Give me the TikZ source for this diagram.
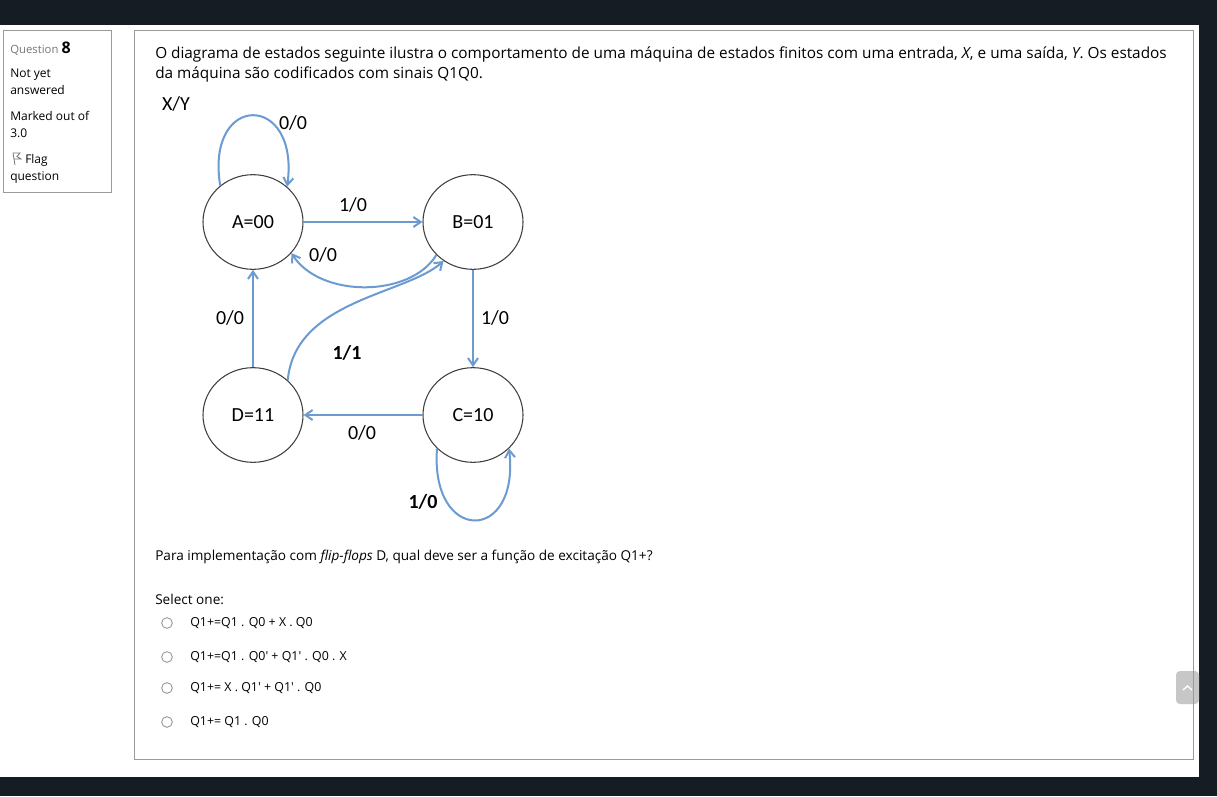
\documentclass[tikz,border=0pt]{standalone}
\usepackage{fontspec}
\setmainfont{Open Sans}
\newfontfamily\figfont{Carlito}
\usepackage{tikz}
\usetikzlibrary{shapes.geometric,positioning,arrows.meta}
\definecolor{pagedark}{HTML}{151C24}
\definecolor{edgeblue}{HTML}{6B9BD1}
\definecolor{boxgray}{HTML}{9A9A9A}
\definecolor{qgray}{HTML}{777777}

\begin{document}
\begin{tikzpicture}[x=0.75pt,y=-0.75pt,
 st/.style={draw=black!75,line width=0.8pt,ellipse,minimum width=75pt,minimum height=71pt,inner sep=0pt,font=\figfont\fontsize{15}{18}\selectfont},
 lbl/.style={font=\figfont\fontsize{15}{18}\selectfont,inner sep=1pt},
 ar/.style={-{Straight Barb[length=5.5pt,width=7.5pt]},draw=edgeblue,line width=1.5pt},
 txt/.style={anchor=base west,inner sep=0pt,font=\fontsize{10.2}{13}\selectfont},
 side/.style={anchor=base west,inner sep=0pt,font=\fontsize{9}{11}\selectfont},
 radio/.style={circle,draw=black!45,line width=0.6pt,minimum size=8pt,inner sep=0pt}]
\useasboundingbox (0,0) rectangle (1217,796);
\fill[pagedark] (0,0) rectangle (1217,796);
\fill[white] (0,25) rectangle (1199,777);
% question info panel
\draw[boxgray,line width=0.75pt] (3,30) rectangle (111,192);
\node[side] (qno) at (10,53) {\textcolor{qgray}{\fontsize{8.5}{10}\selectfont Question} {\fontsize{12}{14}\selectfont\bfseries 8}};
\node[side] (st1) at (10,77) {Not yet};
\node[side] (st2) at (10,94) {answered};
\node[side] (mk1) at (10,120) {Marked out of};
\node[side] (mk2) at (10,137) {3.0};
\node[side] (fl1) at (25,163) {Flag};
\node[side] (fl2) at (10,180) {question};
\draw[black!55,line width=0.6pt] (13,153) -- (15,165);
\draw[black!55,line width=0.6pt] (13,153) -- (20,153) -- (17,156.5) -- (21,159) -- (14,159);
% scroll button and content box
\fill[black!22,rounded corners=3pt] (1176,671) rectangle (1199,704);
\draw[white,line width=1pt] (1183,690) -- (1187.5,686) -- (1192,690);
\draw[boxgray,line width=0.75pt] (134,30) rectangle (1193,759);
% statement
\node[txt,font=\fontsize{11.5}{14}\selectfont] (hd1) at (155,58) {O diagrama de estados seguinte ilustra o comportamento de uma máquina de estados finitos com uma entrada, \textit{X}, e uma saída, \textit{Y}. Os estados};
\node[txt,font=\fontsize{11.5}{14}\selectfont] (hd2) at (155,78) {da máquina são codificados com sinais Q1Q0.};
% state diagram
\node[lbl] (xy) at (176,104) {X/Y};
\node[st] (A) at (253,222) {A=00};
\node[st] (B) at (473,222) {B=01};
\node[st] (C) at (473,415) {C=10};
\node[st] (D) at (253,415) {D=11};
\draw[ar] (A.132) .. controls (205,92) and (300,92) .. (A.46);
\draw[ar] (A) -- (B);
\draw[ar] (B.222) .. controls (410,298) and (320,298) .. (A.321);
\draw[ar] (D.45) .. controls (295,300) and (405,295) .. (B.233);
\draw[ar] (D) -- (A);
\draw[ar] (B) -- (C);
\draw[ar] (C) -- (D);
\draw[ar] (C.223) .. controls (430,544) and (520,544) .. (C.317);
\node[lbl] (l1) at (293,123) {0/0};
\node[lbl] (l2) at (353,205) {1/0};
\node[lbl] (l3) at (323,255) {0/0};
\node[lbl] (l4) at (230,318) {0/0};
\node[lbl] (l5) at (495,318) {1/0};
\node[lbl] (l6) at (347,353) {\bfseries 1/1};
\node[lbl] (l7) at (362,433) {0/0};
\node[lbl] (l8) at (423,502) {\bfseries 1/0};
% question and options
\node[txt] (ask) at (155,560) {Para implementação com \textit{flip-flops} D, qual deve ser a função de excitação Q1+?};
\node[txt] (sel) at (155,604) {Select one:};
\foreach \yy/\opt [count=\i] in {623/{Q1+=Q1 . Q0 + X . Q0},657/{Q1+=Q1 . Q0\textquotesingle{} + Q1\textquotesingle{} . Q0 . X},688/{Q1+= X . Q1\textquotesingle{} + Q1\textquotesingle{} . Q0},722/{Q1+= Q1 . Q0}}{
 \node[radio] (r\i) at (167,\yy) {};
 \node[anchor=west,inner sep=0pt,font=\fontsize{9.3}{12}\selectfont] (o\i) at (190,\yy) {\opt};
}
\end{tikzpicture}
\end{document}
